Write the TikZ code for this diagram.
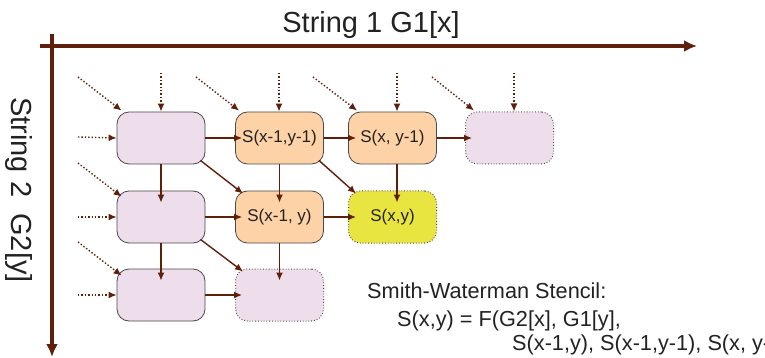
\documentclass[tikz,border=0pt]{standalone}
\usepackage{fontspec}
\setmainfont{Liberation Sans}
\usetikzlibrary{arrows.meta,calc}
\definecolor{brn}{HTML}{5E1F0B}
\definecolor{lav}{HTML}{EEDEEC}
\definecolor{org}{HTML}{FDD2A6}
\definecolor{ylw}{HTML}{E9E540}
\definecolor{edg}{HTML}{4A4A4A}
\definecolor{txt}{HTML}{222222}
\tikzset{
  cell/.style={rounded corners=12pt, minimum width=88pt, minimum height=52pt,
    draw=edg, line width=0.8pt, inner sep=0pt, text=txt,
    font=\fontsize{17}{19}\selectfont},
  lavcell/.style={cell, fill=lav},
  orgcell/.style={cell, fill=org},
  ghost/.style={cell, fill=lav, dotted, line width=1pt},
  target/.style={cell, fill=ylw, dotted, line width=1pt},
  arr/.style={draw=brn, line width=1.4pt, -{Latex[length=8pt,width=7pt]}},
  dotarr/.style={draw=brn, line width=1.4pt, dotted, -{Latex[length=8pt,width=7pt]}},
  axis/.style={draw=brn, line width=3.5pt, -{Latex[length=13pt,width=12pt]}},
  lbl/.style={text=txt, inner sep=0pt}
}
\begin{document}
\begin{tikzpicture}[x=1pt,y=-1pt]
\clip (0,0) rectangle (765,358);
\fill[white] (0,0) rectangle (765,358);

% axes
\coordinate (hx0) at (40,46);
\coordinate (hx1) at (697,46);
\coordinate (vy0) at (52,34);
\coordinate (vy1) at (52,357);
\draw[axis] (hx0) -- (hx1);
\draw[axis] (vy0) -- (vy1);
\node[lbl, anchor=base, font=\fontsize{29}{32}\selectfont] (t1) at (371,33) {String 1 G1[x]};
\node[lbl, anchor=base, rotate=-90, font=\fontsize{29}{32}\selectfont] (t2) at (12,190) {String 2\ \ G2[y]};

% cells
\node[lavcell] (b11) at (161,138) {};
\node[orgcell] (b12) at (279.5,138) {S(x-1,y-1)};
\node[orgcell] (b13) at (392.5,138) {S(x, y-1)};
\node[ghost]   (b14) at (509.5,138) {};
\node[lavcell] (b21) at (161,217) {};
\node[orgcell] (b22) at (279.5,217) {S(x-1, y)};
\node[target]  (b23) at (392.5,217) {S(x,y)};
\node[lavcell] (b31) at (161,295) {};
\node[ghost]   (b32) at (279.5,295) {};

% horizontal solid
\draw[arr] (b11.east) -- ($(b12.west)+(7,0)$);
\draw[arr] (b12.east) -- ($(b13.west)+(8,0)$);
\draw[arr] (b13.east) -- ($(b14.west)+(7,0)$);
\draw[arr] (b21.east) -- ($(b22.west)+(7,0)$);
\draw[arr] (b22.east) -- ($(b23.west)+(8,0)$);
\draw[arr] (b31.east) -- ($(b32.west)+(7,0)$);
% vertical solid
\draw[arr] (b11.south) -- ($(b21.north)+(0,12)$);
\draw[arr] (b12.south) -- ($(b22.north)+(0,12)$);
\draw[arr] ($(b13.south)+(4.5,0)$) -- ($(b23.north)+(4.5,12)$);
\draw[arr] (b21.south) -- ($(b31.north)+(0,12)$);
\draw[arr] (b22.south) -- ($(b32.north)+(0,12)$);
% diagonal solid
\draw[arr] ($(b11.south east)+(-5,-4)$) -- ($(b22.north west)+(8,3)$);
\draw[arr] ($(b12.south east)+(-5,-4)$) -- ($(b23.north west)+(8,3)$);
\draw[arr] ($(b21.south east)+(-5,-4)$) -- ($(b32.north west)+(8,3)$);

% incoming dotted, top row
\coordinate (v1) at (161,73);
\coordinate (v2) at (279,73);
\coordinate (v3) at (397,73);
\coordinate (v4) at (514,73);
\draw[dotarr] (v1) -- (b11.north);
\draw[dotarr] (v2) -- ($(b12.north)+(-0.5,0)$);
\draw[dotarr] (v3) -- ($(b13.north)+(4.5,0)$);
\draw[dotarr] (v4) -- ($(b14.north)+(4.5,0)$);
\coordinate (d1) at (78,77);
\coordinate (d2) at (196,77);
\coordinate (d3) at (313,77);
\coordinate (d4) at (432,77);
\draw[dotarr] (d1) -- ($(b11.north west)+(5,-1)$);
\draw[dotarr] (d2) -- ($(b12.north west)+(4,-1)$);
\draw[dotarr] (d3) -- ($(b13.north west)+(9,-1)$);
\draw[dotarr] (d4) -- ($(b14.north west)+(9,-1)$);
% incoming dotted, left column
\coordinate (h1) at (78,137);
\coordinate (h2) at (78,217);
\coordinate (h3) at (78,295);
\draw[dotarr] (h1) -- (b11.west);
\draw[dotarr] (h2) -- (b21.west);
\draw[dotarr] (h3) -- (b31.west);
\coordinate (e2) at (78,163);
\coordinate (e3) at (78,242);
\draw[dotarr] (e2) -- ($(b21.north west)+(5,6)$);
\draw[dotarr] (e3) -- ($(b31.north west)+(5,7)$);

% formula
\node[lbl, anchor=base west, font=\fontsize{21.7}{24}\selectfont] (f1) at (367,298) {Smith-Waterman Stencil:};
\node[lbl, anchor=base west, font=\fontsize{21.7}{24}\selectfont] (f2) at (397,326) {S(x,y) = F(G2[x], G1[y],};
\node[lbl, anchor=base west, font=\fontsize{21.7}{24}\selectfont] (f3) at (512,350) {S(x-1,y), S(x-1,y-1), S(x, y-1))};
\end{tikzpicture}
\end{document}
